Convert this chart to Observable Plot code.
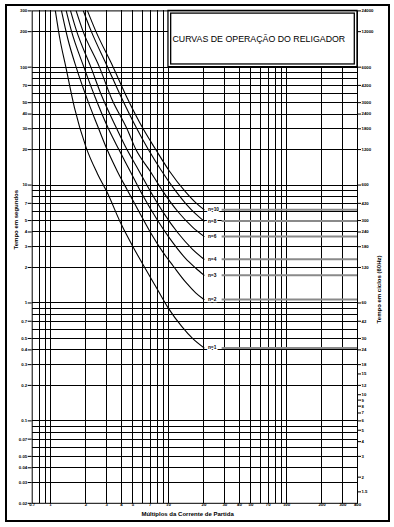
<!DOCTYPE html>
<html><head><meta charset="utf-8">
<script src="https://cdn.jsdelivr.net/npm/d3@7"></script>
<script src="https://cdn.jsdelivr.net/npm/@observablehq/plot@0.6"></script>
<style>
html,body{margin:0;padding:0;background:#fff;}
#wrap{position:relative;width:394px;height:527px;}
#border{position:absolute;left:5px;top:4px;width:385px;height:518px;box-sizing:border-box;border:2px solid #000;pointer-events:none;}
</style></head><body><div id="wrap"><div id="border"></div></div>
<script>
// grid lines (values)
const xGrid = [0.8,0.9,1,2,3,4,5,6,7,8,9,10,20,30,40,50,60,70,80,90,100,200,300];
const yGrid = [200,100,90,80,70,60,50,40,30,20,10,9,8,7,6,5,4,3,2,1,0.9,0.8,0.7,0.6,0.5,0.4,0.3,0.2,0.1,0.09,0.08,0.07,0.06,0.05,0.04,0.03];
// tick labels
const xTicks = [0.7,1,2,3,4,5,7,10,20,30,40,50,70,100,200,300,400];
const yTicks = [300,200,100,70,50,40,30,20,10,7,5,4,3,2,1,0.7,0.5,0.4,0.3,0.2,0.1,0.07,0.05,0.04,0.03,0.02];
const rightLabels = ["24000","12000","6000","4200","3000","2400","1800","1200","600","420","300","240","180","120","60","42","30","24","18","15","12","10","9","8","7","6","5","4","3","2","1.5"];
const rightSecs = [300,200,100,70,50,40,30,20,10,7,5,4,3,2,1,0.7,0.5,0.4,0.3,0.25,0.2,10/60,9/60,8/60,7/60,0.1,5/60,4/60,0.05,2/60,0.025];
// curves: multiples of pickup current (M) and time in seconds (t)
const curveNames = ["n=1","n=2","n=3","n=4","n=6","n=8","n=10"];
const curveM = [
  [1.1,1.2,1.35,1.6,2.0,2.5,3.0,4.0,5.0,6.2,8.0,10,13,16,20],
  [1.24,1.4,1.65,2.1,2.5,3.02,3.7,4.5,5.5,7,8.85,11,14,17,20],
  [1.36,1.5,1.92,2.4,3.1,3.8,4.7,6,8,10,14,17,20],
  [1.48,1.65,2.2,2.7,3.65,4.45,5.6,7,9,12,16,20],
  [1.65,1.9,2.6,3.3,4.45,5.3,7,9,12,16,20],
  [1.9,2.2,3.05,4,5.4,6.75,8.7,11,14,17,20],
  [2.06,2.4,3.4,4.5,6.1,7.8,10.1,13.9,17,20]
];
const curveT = [
  [300,175,100,45,21,12.5,8.8,4.6,3.0,2.05,1.32,0.9,0.63,0.5,0.416],
  [300,175,100,50,32,20,13,9.0,6.2,4.0,2.75,2.05,1.5,1.22,1.07],
  [300,205,100,55,30,20,13.3,8.3,5.1,3.65,2.38,1.98,1.72],
  [300,208,100,58,30,20,13.3,8.9,5.9,3.94,2.85,2.35],
  [300,198,100,54,30,20,13.1,8.8,5.97,4.4,3.67],
  [300,205,100,55,30,20,13.3,9.46,6.97,5.69,4.95],
  [300,206,100,54,30,20,13.3,8.8,7.1,6.19]
];
const title = "CURVAS DE OPERAÇÃO DO RELIGADOR";
const yTitle = "Tempo em segundos";
const y2Title = "Tempo em ciclos (60Hz)";
const xTitle = "Múltiplos da Corrente de Partida";

const rows = curveNames.flatMap((n,i)=>curveM[i].map((m,j)=>({n, m, t: curveT[i][j]})));
const ends = curveNames.map((n,i)=>({n, t: curveT[i][curveT[i].length-1]}));
const box = {x1: 10, x2: 400, y1: 100, y2: 300};
const fmt = d => String(d);
const font = "'Liberation Sans', Arial, Helvetica, sans-serif";
const blank = () => "";

const chart = Plot.plot({
  width: 394, height: 527,
  marginLeft: 31.7, marginRight: 37, marginTop: 10.4, marginBottom: 24.2,
  x: {type: "log", domain: [0.7, 400], axis: null},
  y: {type: "log", domain: [0.02, 300]},
  style: {fontFamily: font, fontSize: "4.3px", background: "white", color: "black"},
  marks: [
    Plot.ruleX(xGrid, {stroke: "#000", strokeWidth: 1, shapeRendering: "crispEdges"}),
    Plot.ruleY(yGrid, {stroke: "#000", strokeWidth: 1, shapeRendering: "crispEdges"}),
    Plot.ruleY(ends, {y: "t", x1: 28.5, x2: 400, stroke: "#8a8a8a", strokeWidth: 2}),
    Plot.line(rows, {x: "m", y: "t", z: "n", curve: "monotone-x", stroke: "#000", strokeWidth: 1.1, clip: true}),
    Plot.text(ends, {x: 21.6, y: "t", text: "n", textAnchor: "start", fontSize: 4.8, fontWeight: "bold", fill: "black", stroke: "white", strokeWidth: 2.5}),
    Plot.rect([box], {x1: "x1", x2: "x2", y1: "y1", y2: "y2", fill: "white", stroke: "black", strokeWidth: 1.3}),
    Plot.rect([box], {x1: "x1", x2: "x2", y1: "y1", y2: "y2", inset: 2.7, fill: "none", stroke: "black", strokeWidth: 1.3}),
    Plot.text([title], {x: 10, y: 173, dx: 4, textAnchor: "start", fontSize: 8.8, fill: "black"}),
    Plot.frame({stroke: "black", strokeWidth: 1}),
    // tick marks via axes (labels drawn separately)
    Plot.axisY({ticks: yTicks, tickFormat: blank, anchor: "left", tickSize: 4, label: null}),
    Plot.axisY({ticks: rightSecs, tickFormat: blank, anchor: "right", tickSize: 3, label: null}),
    // tick labels
    Plot.text(yTicks, {y: d => d, text: fmt, frameAnchor: "left", textAnchor: "end", dx: -5, fontSize: 4.3, fontWeight: "bold", fill: "black"}),
    Plot.text(rightSecs, {y: d => d, text: (d, i) => rightLabels[i], frameAnchor: "right", textAnchor: "start", dx: 4, fontSize: 4.3, fontWeight: "bold", fill: "black"}),
    Plot.text(xTicks, {x: d => d, text: fmt, frameAnchor: "bottom", dy: 2.8, fontSize: 4.3, fontWeight: "bold", fill: "black"}),
    Plot.text([yTitle], {frameAnchor: "left", dx: -15.7, dy: -7.6, rotate: -90, fontSize: 6, fontWeight: "bold", fill: "black"}),
    Plot.text([y2Title], {frameAnchor: "right", dx: 22, dy: -1.6, rotate: -90, fontSize: 6, fontWeight: "bold", fill: "black"}),
    Plot.text([xTitle], {frameAnchor: "bottom", dx: -7.3, dy: 12.4, fontSize: 6, fontWeight: "bold", fill: "black"})
  ]
});
document.getElementById("wrap").prepend(chart);
</script></body></html>
